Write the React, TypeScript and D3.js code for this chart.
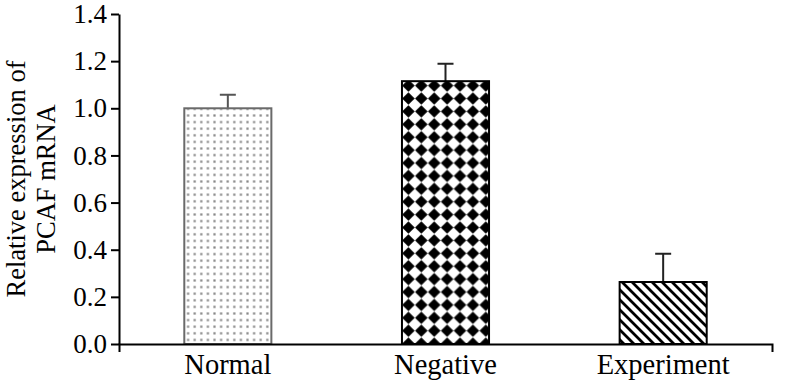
import React, { useEffect, useRef } from "react";
import * as d3 from "d3";

const categories = ["Normal", "Negative", "Experiment"];
const means = [1.0, 1.115, 0.263];
const errors = [0.057, 0.074, 0.12];
const yTicks = [0, 0.2, 0.4, 0.6, 0.8, 1.0, 1.2, 1.4];

export default function App() {
  const ref = useRef<SVGSVGElement | null>(null);

  useEffect(() => {
    if (!ref.current) return;
    const svg = d3.select(ref.current);
    svg.selectAll("*").remove();

    const width = 800;
    const height = 388;
    const margin = { top: 14, right: 28, bottom: 44, left: 119 };
    const font = "'Liberation Serif', 'Times New Roman', serif";

    const x = d3
      .scaleBand<string>()
      .domain(categories)
      .range([margin.left, width - margin.right])
      .paddingInner(0.6)
      .paddingOuter(0.3);

    const y = d3
      .scaleLinear()
      .domain([0, 1.4])
      .range([height - margin.bottom, margin.top]);

    // fill patterns
    const defs = svg.append("defs");

    const dots = defs
      .append("pattern")
      .attr("id", "dots")
      .attr("patternUnits", "userSpaceOnUse")
      .attr("width", 6.6)
      .attr("height", 6.6);
    dots.append("rect").attr("width", 6.6).attr("height", 6.6).attr("fill", "#fff");
    dots
      .append("rect")
      .attr("x", 2.2)
      .attr("y", 2.2)
      .attr("width", 2.2)
      .attr("height", 2.2)
      .attr("fill", "#888");

    const diamonds = defs
      .append("pattern")
      .attr("id", "diamonds")
      .attr("patternUnits", "userSpaceOnUse")
      .attr("width", 12.9)
      .attr("height", 12.9)
      .attr("x", x("Negative")!)
      .attr("y", y(1.115) - 2);
    diamonds.append("rect").attr("width", 12.9).attr("height", 12.9).attr("fill", "#fff");
    diamonds
      .append("path")
      .attr("d", "M6.45,0.2 L12.7,6.45 L6.45,12.7 L0.2,6.45 Z")
      .attr("fill", "#000");

    const hatch = defs
      .append("pattern")
      .attr("id", "hatch")
      .attr("patternUnits", "userSpaceOnUse")
      .attr("width", 10)
      .attr("height", 10);
    hatch.append("rect").attr("width", 10).attr("height", 10).attr("fill", "#fff");
    hatch
      .append("path")
      .attr("d", "M-5,5 L5,15 M0,0 L10,10 M5,-5 L15,5")
      .attr("stroke", "#000")
      .attr("stroke-width", 2.8);

    const fills = ["url(#dots)", "url(#diamonds)", "url(#hatch)"];
    const strokes = ["#6a6a6a", "#000", "#000"];

    // error bars (drawn first so bar tops cover the stems)
    const errG = svg.append("g");
    categories.forEach((c, i) => {
      const cx = x(c)! + x.bandwidth() / 2;
      const top = y(means[i] + errors[i]);
      errG
        .append("path")
        .attr("d", `M${cx},${y(means[i])} V${top} M${cx - 8},${top} H${cx + 8}`)
        .attr("stroke", i === 0 ? "#555" : "#222")
        .attr("stroke-width", 2)
        .attr("fill", "none");
    });

    svg
      .append("g")
      .selectAll("rect")
      .data(categories)
      .join("rect")
      .attr("x", (d) => x(d)!)
      .attr("y", (_, i) => y(means[i]))
      .attr("width", x.bandwidth())
      .attr("height", (_, i) => y(0) - y(means[i]))
      .attr("fill", (_, i) => fills[i])
      .attr("stroke", (_, i) => strokes[i])
      .attr("stroke-width", 2);

    // axes
    const yAxis = svg
      .append("g")
      .attr("transform", `translate(${margin.left},0)`)
      .call(
        d3
          .axisLeft(y)
          .tickValues(yTicks)
          .tickFormat(d3.format(".1f"))
          .tickSizeInner(8)
          .tickSizeOuter(0)
          .tickPadding(4)
      );
    yAxis.selectAll("path, line").attr("stroke", "#000").attr("stroke-width", 2);
    yAxis
      .selectAll("text")
      .attr("font-family", font)
      .attr("font-size", 27)
      .attr("fill", "#000");

    const xAxis = svg
      .append("g")
      .attr("transform", `translate(0,${y(0)})`)
      .call(d3.axisBottom(x).tickSizeInner(0).tickSizeOuter(8).tickPadding(10));
    xAxis.selectAll("path, line").attr("stroke", "#000").attr("stroke-width", 2);
    xAxis
      .selectAll("text")
      .attr("font-family", font)
      .attr("font-size", 28.5)
      .attr("fill", "#000");

    // y axis title
    const midY = (y(0) + y(1.4)) / 2;
    const title = svg
      .append("text")
      .attr("transform", `translate(0,${midY}) rotate(-90)`)
      .attr("text-anchor", "middle")
      .attr("font-family", font)
      .attr("font-size", 26.5)
      .attr("fill", "#000");
    title.append("tspan").attr("x", 0).attr("y", 25).text("Relative expression of");
    title.append("tspan").attr("x", 0).attr("y", 55).text("PCAF mRNA");
  });

  return (
    <svg
      ref={ref}
      width={800}
      height={388}
      style={{ position: "absolute", left: 0, top: 0, background: "#fff" }}
    />
  );
}
